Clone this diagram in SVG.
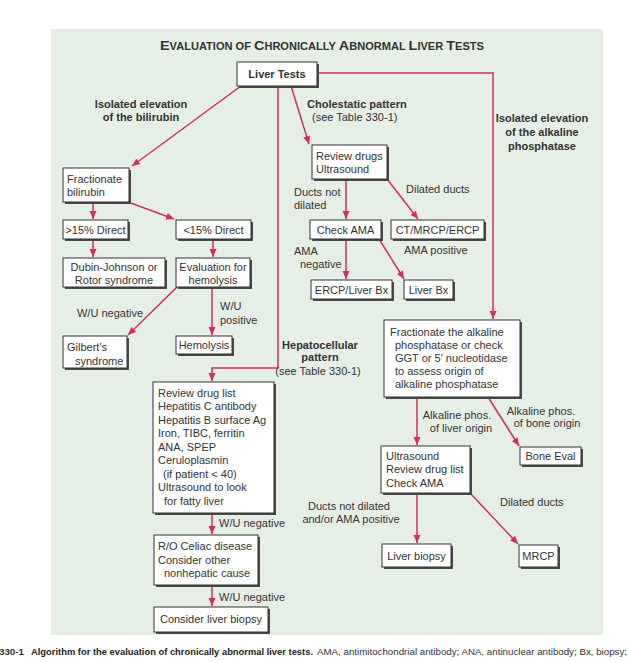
<svg xmlns="http://www.w3.org/2000/svg" width="628" height="662" viewBox="0 0 628 662">
<defs>
<marker id="ah" markerWidth="8" markerHeight="8" refX="8" refY="4" orient="auto" markerUnits="userSpaceOnUse"><path d="M0,0.5 L8,4 L0,7.5 z" fill="#d92b62"/></marker>
<style>
text{font-family:"Liberation Sans",Arial,sans-serif;font-size:11px;fill:#333;}
.b{font-weight:bold;}
.c{text-anchor:middle;}
.box{fill:#fff;stroke:#333;stroke-width:1;}
.sh{fill:#4a4a4a;}
.con{fill:none;stroke:#d92b62;stroke-width:1.5;marker-end:url(#ah);}
</style>
</defs>
<rect x="0" y="0" width="628" height="662" fill="#fff"/>
<rect x="51" y="29" width="552" height="606" fill="#e6efe6"/>
<text x="160" y="50" class="b" style="font-size:13px" textLength="324" lengthAdjust="spacingAndGlyphs">E<tspan style="font-size:10px">VALUATION OF </tspan>C<tspan style="font-size:10px">HRONICALLY </tspan>A<tspan style="font-size:10px">BNORMAL </tspan>L<tspan style="font-size:10px">IVER </tspan>T<tspan style="font-size:10px">ESTS</tspan></text>

<g id="connectors">
<line class="con" x1="241" y1="86" x2="132" y2="166"/>
<polyline class="con" points="278,86 278,368 212,368 212,381"/>
<line class="con" x1="291" y1="86" x2="309" y2="144"/>
<polyline class="con" points="317,73 493,73 493,319"/>
<line class="con" x1="93" y1="202" x2="93" y2="219"/>
<line class="con" x1="128" y1="202" x2="174" y2="219"/>
<line class="con" x1="93" y1="239" x2="93" y2="257"/>
<line class="con" x1="213" y1="239" x2="213" y2="257"/>
<line class="con" x1="346" y1="179" x2="346" y2="219"/>
<line class="con" x1="387" y1="179" x2="418" y2="219"/>
<line class="con" x1="346" y1="239" x2="346" y2="279"/>
<line class="con" x1="379" y1="239" x2="404" y2="279"/>
<line class="con" x1="177" y1="287" x2="128" y2="335"/>
<line class="con" x1="212" y1="287" x2="212" y2="335"/>
<line class="con" x1="212" y1="513" x2="212" y2="534"/>
<line class="con" x1="212" y1="585" x2="212" y2="606"/>
<line class="con" x1="417" y1="397" x2="417" y2="445"/>
<line class="con" x1="488" y1="397" x2="519" y2="446"/>
<line class="con" x1="417" y1="493" x2="417" y2="543"/>
<line class="con" x1="470" y1="493" x2="518" y2="544"/>
</g>

<g id="labels">
<text x="141" y="108" class="b c">Isolated elevation</text>
<text x="141" y="121" class="b c">of the bilirubin</text>
<text x="307" y="108" class="b">Cholestatic pattern</text>
<text x="312" y="121">(see Table 330-1)</text>
<text x="542" y="122" class="b c">Isolated elevation</text>
<text x="542" y="136" class="b c">of the alkaline</text>
<text x="542" y="150" class="b c">phosphatase</text>
<text x="294" y="196">Ducts not</text>
<text x="294" y="209">dilated</text>
<text x="406" y="193">Dilated ducts</text>
<text x="404" y="254">AMA positive</text>
<text x="294" y="255">AMA</text>
<text x="300" y="268">negative</text>
<text x="110" y="317" class="c">W/U negative</text>
<text x="220" y="310">W/U</text>
<text x="220" y="324">positive</text>
<text x="320" y="349" class="b c">Hepatocellular</text>
<text x="320" y="361" class="b c">pattern</text>
<text x="318" y="375" class="c">(see Table 330-1)</text>
<text x="457" y="419" class="c">Alkaline phos.</text>
<text x="461" y="432" class="c">of liver origin</text>
<text x="541" y="415" class="c">Alkaline phos.</text>
<text x="547" y="427" class="c">of bone origin</text>
<text x="500" y="506">Dilated ducts</text>
<text x="349" y="510" class="c">Ducts not dilated</text>
<text x="351" y="523" class="c">and/or AMA positive</text>
<text x="219" y="527">W/U negative</text>
<text x="219" y="601">W/U negative</text>
</g>

<g id="liver-tests"><rect class="sh" x="239" y="64" width="80" height="24"/><rect class="box" x="237" y="62" width="80" height="24"/><text x="277" y="78" class="b c">Liver Tests</text></g>
<g id="review-drugs"><rect class="sh" x="314" y="147" width="75" height="34"/><rect class="box" x="312" y="145" width="75" height="34"/><text x="316" y="160">Review drugs</text><text x="316" y="173">Ultrasound</text></g>
<g id="fractionate-bilirubin"><rect class="sh" x="65" y="170" width="66" height="34"/><rect class="box" x="63" y="168" width="66" height="34"/><text x="67" y="183">Fractionate</text><text x="67" y="196">bilirubin</text></g>
<g id="gt15-direct"><rect class="sh" x="65" y="222" width="65" height="19"/><rect class="box" x="63" y="220" width="65" height="19"/><text x="95.5" y="233.5" class="c">&gt;15% Direct</text></g>
<g id="lt15-direct"><rect class="sh" x="178" y="222" width="75" height="19"/><rect class="box" x="176" y="220" width="75" height="19"/><text x="213.5" y="233.5" class="c">&lt;15% Direct</text></g>
<g id="check-ama"><rect class="sh" x="312" y="222" width="71" height="19"/><rect class="box" x="310" y="220" width="71" height="19"/><text x="345.5" y="233.5" class="c">Check AMA</text></g>
<g id="ct-mrcp-ercp"><rect class="sh" x="393" y="222" width="93" height="19"/><rect class="box" x="391" y="220" width="93" height="19"/><text x="437.5" y="233.5" class="c">CT/MRCP/ERCP</text></g>
<g id="dubin-johnson"><rect class="sh" x="65" y="260" width="102" height="29"/><rect class="box" x="63" y="258" width="102" height="29"/><text x="114" y="271" class="c">Dubin-Johnson or</text><text x="114" y="284" class="c">Rotor syndrome</text></g>
<g id="eval-hemolysis"><rect class="sh" x="178" y="260" width="74" height="29"/><rect class="box" x="176" y="258" width="74" height="29"/><text x="213" y="271" class="c">Evaluation for</text><text x="213" y="284" class="c">hemolysis</text></g>
<g id="ercp-liver-bx"><rect class="sh" x="313" y="282" width="81" height="19"/><rect class="box" x="311" y="280" width="81" height="19"/><text x="351.5" y="293.5" class="c">ERCP/Liver Bx</text></g>
<g id="liver-bx"><rect class="sh" x="406" y="282" width="49" height="19"/><rect class="box" x="404" y="280" width="49" height="19"/><text x="428.5" y="293.5" class="c">Liver Bx</text></g>
<g id="fractionate-alk"><rect class="sh" x="386" y="322" width="136" height="77"/><rect class="box" x="384" y="320" width="136" height="77"/><text x="390" y="336">Fractionate the alkaline</text><text x="395" y="349">phosphatase or check</text><text x="395" y="362">GGT or 5′ nucleotidase</text><text x="395" y="375">to assess origin of</text><text x="395" y="388">alkaline phosphatase</text></g>
<g id="gilbert"><rect class="sh" x="65" y="338" width="64" height="32"/><rect class="box" x="63" y="336" width="64" height="32"/><text x="67" y="351">Gilbert's</text><text x="75" y="365">syndrome</text></g>
<g id="hemolysis"><rect class="sh" x="178" y="338" width="56" height="18"/><rect class="box" x="176" y="336" width="56" height="18"/><text x="204" y="349" class="c">Hemolysis</text></g>
<g id="review-drug-list"><rect class="sh" x="155" y="384" width="121" height="131"/><rect class="box" x="153" y="382" width="121" height="131"/>
<text x="158" y="397">Review drug list</text><text x="158" y="410">Hepatitis C antibody</text><text x="158" y="424">Hepatitis B surface Ag</text><text x="158" y="437">Iron, TIBC, ferritin</text><text x="158" y="451">ANA, SPEP</text><text x="158" y="464">Ceruloplasmin</text><text x="163" y="478">(if patient &lt; 40)</text><text x="158" y="491">Ultrasound to look</text><text x="164" y="505">for fatty liver</text></g>
<g id="ultrasound-review"><rect class="sh" x="383" y="448" width="89" height="47"/><rect class="box" x="381" y="446" width="89" height="47"/><text x="386" y="460">Ultrasound</text><text x="386" y="473">Review drug list</text><text x="386" y="487">Check AMA</text></g>
<g id="bone-eval"><rect class="sh" x="522" y="449" width="61" height="18"/><rect class="box" x="520" y="447" width="61" height="18"/><text x="550.5" y="460" class="c">Bone Eval</text></g>
<g id="ro-celiac"><rect class="sh" x="156" y="537" width="104" height="50"/><rect class="box" x="154" y="535" width="104" height="50"/><text x="158" y="550">R/O Celiac disease</text><text x="158" y="564">Consider other</text><text x="164" y="577">nonhepatic cause</text></g>
<g id="liver-biopsy"><rect class="sh" x="384" y="546" width="69" height="23"/><rect class="box" x="382" y="544" width="69" height="23"/><text x="416.5" y="560" class="c">Liver biopsy</text></g>
<g id="mrcp"><rect class="sh" x="521" y="547" width="39" height="22"/><rect class="box" x="519" y="545" width="39" height="22"/><text x="538.5" y="560" class="c">MRCP</text></g>
<g id="consider-liver-biopsy"><rect class="sh" x="156" y="609" width="114" height="25"/><rect class="box" x="154" y="607" width="114" height="25"/><text x="211" y="623" class="c">Consider liver biopsy</text></g>

<g id="caption">
<text x="-1" y="655" class="b" style="font-size:9px" textLength="25" lengthAdjust="spacingAndGlyphs">330-1</text>
<text x="31" y="655" class="b" style="font-size:9px;fill:#222" textLength="282" lengthAdjust="spacingAndGlyphs">Algorithm for the evaluation of chronically abnormal liver tests.</text>
<text x="317" y="655" style="font-size:9px" textLength="310" lengthAdjust="spacingAndGlyphs">AMA, antimitochondrial antibody; ANA, antinuclear antibody; Bx, biopsy;</text>
</g>
</svg>
